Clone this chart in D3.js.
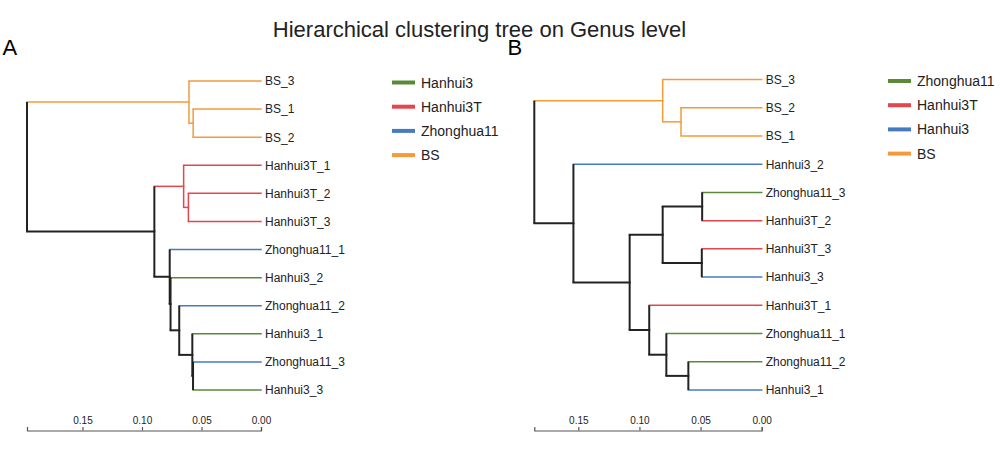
<!DOCTYPE html>
<html><head><meta charset="utf-8">
<script src="https://cdn.jsdelivr.net/npm/d3@7"></script>
<style>body{margin:0;background:#fff}svg{display:block;font-family:"Liberation Sans",Arial,sans-serif}</style>
</head><body><svg id="c" width="1000" height="455"></svg>
<script>
// ---- data ----
const palette = ["#5a8a36", "#e4464b", "#477bc0", "#f49a3a"];

const leavesA = ["BS_3","BS_1","BS_2","Hanhui3T_1","Hanhui3T_2","Hanhui3T_3",
  "Zhonghua11_1","Hanhui3_2","Zhonghua11_2","Hanhui3_1","Zhonghua11_3","Hanhui3_3"];
// hclust-style merges: negative = leaf (1-based), positive = earlier merge (1-based); last = height
const mergeA = [[-2,-3,0.057],[-1,1,0.0605],[-5,-6,0.061],[-4,3,0.065],
  [-11,-12,0.0571],[-10,5,0.0577],[-9,6,0.0687],[-8,7,0.076],[-7,8,0.0767],
  [4,9,0.0896],[2,10,0.1966]];
const legendA = ["Hanhui3","Hanhui3T","Zhonghua11","BS"];

const leavesB = ["BS_3","BS_2","BS_1","Hanhui3_2","Zhonghua11_3","Hanhui3T_2",
  "Hanhui3T_3","Hanhui3_3","Hanhui3T_1","Zhonghua11_1","Zhonghua11_2","Hanhui3_1"];
const mergeB = [[-2,-3,0.066],[-1,1,0.081],[-5,-6,0.0487],[-7,-8,0.049],[3,4,0.081],
  [-11,-12,0.060],[-10,6,0.078],[-9,7,0.092],[5,8,0.108],[-4,9,0.154],[2,10,0.186]];
const legendB = ["Zhonghua11","Hanhui3T","Hanhui3","BS"];

const axisTicks = [0.15, 0.10, 0.05, 0.00];

const title = "Hierarchical clustering tree on Genus level";

// ---- drawing ----
const svg = d3.select("#c");

svg.append("text").attr("x", 479.5).attr("y", 36.5).attr("text-anchor","middle")
  .attr("font-size", 22).attr("fill","#222").text(title);

function buildTree(leaves, merge) {
  const nodes = [];
  const get = v => v < 0 ? {name: leaves[-v-1], height: 0} : nodes[v-1];
  merge.forEach(m => nodes.push({height: m[2], children: [get(m[0]), get(m[1])]}));
  return d3.hierarchy(nodes[nodes.length-1]);
}

function panel(cfg) {
  const g = svg.append("g");
  const color = d3.scaleOrdinal(cfg.legend, palette);
  const groupOf = name => name.replace(/_\d+$/, "");
  const root = buildTree(cfg.leaves, cfg.merge);
  const x = d3.scaleLinear().domain([root.data.height, 0]).range([cfg.x0, cfg.x1]);
  const y = d3.scalePoint().domain(cfg.leaves).range([cfg.y0, cfg.y1]);

  root.eachAfter(n => {
    if (!n.children) {
      n.py = y(n.data.name);
      n.grp = groupOf(n.data.name);
    } else {
      n.py = d3.mean(n.children, c => c.py);
      const gs = new Set(n.children.map(c => c.grp));
      n.grp = (gs.size === 1 && !gs.has(null)) ? [...gs][0] : null;
    }
    n.px = x(n.data.height);
  });
  const col = n => n.grp ? color(n.grp) : "#222";
  const wid = n => n.grp ? 1.5 : 2;

  // horizontal stems (root stem not drawn)
  root.descendants().filter(n => n.parent).forEach(n => {
    g.append("line").attr("x1", n.parent.px).attr("x2", n.px)
      .attr("y1", n.py).attr("y2", n.py)
      .attr("stroke", col(n)).attr("stroke-width", wid(n)).attr("stroke-linecap","square");
  });
  // verticals
  root.descendants().filter(n => n.children).forEach(n => {
    const ys = n.children.map(c => c.py);
    g.append("line").attr("x1", n.px).attr("x2", n.px)
      .attr("y1", d3.min(ys)).attr("y2", d3.max(ys))
      .attr("stroke", col(n)).attr("stroke-width", wid(n));
  });
  // leaf labels
  root.leaves().forEach(n => {
    g.append("text").attr("x", n.px + 4).attr("y", n.py).attr("dy","0.36em")
      .attr("font-size", 12).attr("fill","#222").text(n.data.name);
  });
  // axis
  const ax = g.append("g").attr("transform", `translate(0,${cfg.axisY})`)
    .call(d3.axisTop(x).tickValues(axisTicks).tickFormat(d3.format(".2f"))
      .tickSizeInner(3.5).tickSizeOuter(3.5).tickPadding(3.5));
  ax.selectAll("path,line").attr("stroke","#555").attr("stroke-width",1.2);
  ax.selectAll("text").attr("font-size",10).attr("fill","#222")
    .attr("font-family",'"Liberation Sans",Arial,sans-serif');

  // legend
  const lg = g.append("g");
  cfg.legend.forEach((k, i) => {
    const yy = cfg.legY + i * 24.2;
    lg.append("line").attr("x1", cfg.legX).attr("x2", cfg.legX + 23).attr("y1", yy).attr("y2", yy)
      .attr("stroke", color(k)).attr("stroke-width", 4);
    lg.append("text").attr("x", cfg.legX + 29).attr("y", yy).attr("dy","0.36em")
      .attr("font-size", 14).attr("fill","#222").text(k);
  });
  // panel letter
  svg.append("text").attr("x", cfg.letterX).attr("y", 55).attr("font-size", 22)
    .attr("fill","#000").text(cfg.letter);
}

panel({leaves: leavesA, merge: mergeA, legend: legendA, x0: 27, x1: 261, y0: 81, y1: 390,
  axisY: 430.5, legX: 392, legY: 82.5, letter: "A", letterX: 2.5});
panel({leaves: leavesB, merge: mergeB, legend: legendB, x0: 534.3, x1: 761.7, y0: 79.5, y1: 390,
  axisY: 430.5, legX: 888, legY: 81, letter: "B", letterX: 507.5});
</script></body></html>
